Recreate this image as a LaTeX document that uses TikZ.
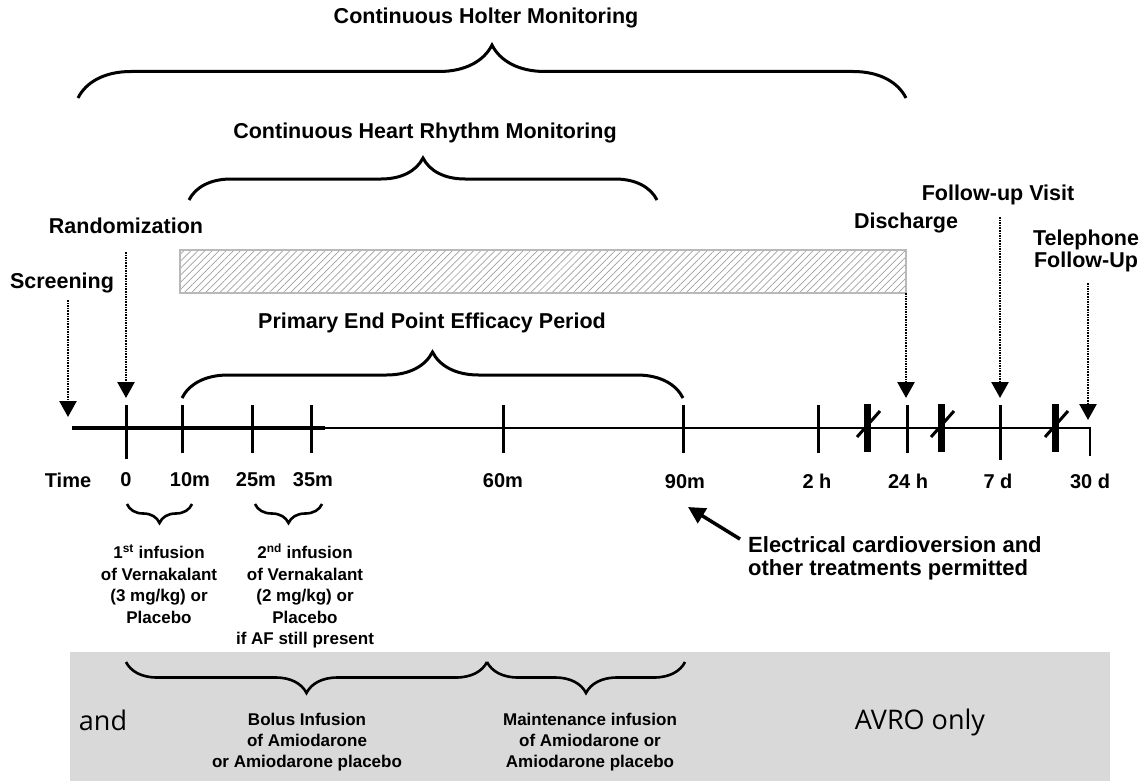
\documentclass[tikz,border=0pt]{standalone}
\usepackage{fontspec}
\setmainfont{Liberation Sans}
\newfontfamily\avrofont{Open Sans}
\usetikzlibrary{arrows.meta,decorations.pathreplacing,patterns.meta}

\tikzset{
  lbl/.style={font=\bfseries\fontsize{21.5}{23}\selectfont, inner sep=0pt, align=center},
  axlbl/.style={font=\bfseries\fontsize{20}{22}\selectfont, inner sep=0pt},
  small/.style={font=\bfseries\fontsize{17}{21.5}\selectfont, inner sep=0pt, align=center},
  plain/.style={font=\avrofont\fontsize{27}{30}\selectfont, inner sep=0pt},
  tick/.style={line width=3pt},
  brk/.style={line width=7pt},
  brc/.style={decorate, decoration={brace, amplitude=#1}, line width=3pt},
  brcd/.style={decorate, decoration={brace, mirror, amplitude=#1}, line width=2.6pt},
  dotarrow/.style={line width=2.6pt, dash pattern=on 1.6pt off 1pt, -{Triangle[width=17pt,length=16pt]}},
  bigarrow/.style={line width=3.5pt, -{Triangle[width=17pt,length=17pt]}}
}

\begin{document}
\begin{tikzpicture}[x=1pt,y=-1pt]
  \useasboundingbox (0,0) rectangle (1145,781);

  % AVRO band
  \fill[black!15] (70,652) rectangle (1110,781);
  \draw[brcd=31] (126,662) -- (487,662);
  \draw[brcd=31] (487,662) -- (685,662);
  \node[plain] (andl) at (103,720) {and};
  \node[small, font=\bfseries\fontsize{17}{21}\selectfont] (bolus) at (307,742) {Bolus Infusion\\of Amiodarone\\or Amiodarone placebo};
  \node[small, font=\bfseries\fontsize{17}{21}\selectfont] (maint) at (590,742) {Maintenance infusion\\of Amiodarone or\\Amiodarone placebo};
  \node[plain] (avro) at (920,722) {AVRO only};

  % monitoring periods
  \node[lbl] (holter) at (486,18) {Continuous Holter Monitoring};
  \draw[brc=53] (78,98) -- (906,98);
  \node[lbl] (heart) at (425,133) {Continuous Heart Rhythm Monitoring};
  \draw[brc=42] (189,200) -- (657,200);
  \draw[pattern={Lines[angle=45,distance=5pt,line width=0.7pt]}, pattern color=gray!75, draw=gray!55, line width=1.2pt]
    (180,250) rectangle (906,293) coordinate (hatch);
  \node[lbl] (primary) at (432,323) {Primary End Point Efficacy Period};
  \draw[brc=46] (182,398) -- (683,398);

  % time axis
  \draw[line width=3.5pt] (72,428) -- (325,428);
  \draw[line width=2.5pt] (325,428) -- (1090,428) -- (1090,456);
  \draw[tick] (126,405) -- (126,459);
  \draw[tick] (182,405) -- (182,453);
  \draw[tick] (252,405) -- (252,453);
  \draw[tick] (311,405) -- (311,453);
  \draw[tick] (503,405) -- (503,453);
  \draw[tick] (683,405) -- (683,453);
  \draw[tick] (818,405) -- (818,453);
  \draw[tick] (907,405) -- (907,453);
  \draw[tick] (1000,405) -- (1000,460);
  \draw[line width=3pt] (857,437) -- (880,411);
  \draw[brk] (867,404) -- (867,452);
  \draw[line width=3pt] (931,437) -- (954,411);
  \draw[brk] (941,404) -- (941,452);
  \draw[line width=3pt] (1045,437) -- (1068,411);
  \draw[brk] (1055,404) -- (1055,452);

  \node[axlbl] (ltime) at (68,480) {Time};
  \node[axlbl] (l0) at (126,480) {0};
  \node[axlbl] (l10) at (190,480) {10m};
  \node[axlbl] (l25) at (256,480) {25m};
  \node[axlbl] (l35) at (313,480) {35m};
  \node[axlbl] (l60) at (503,481) {60m};
  \node[axlbl] (l90) at (685,482) {90m};
  \node[axlbl] (l2h) at (817,481) {2 h};
  \node[axlbl] (l24h) at (908,481) {24 h};
  \node[axlbl] (l7d) at (998,481) {7 d};
  \node[axlbl] (l30d) at (1090,481) {30 d};

  % infusions
  \draw[brcd=19] (127,504) -- (192,504);
  \draw[brcd=19] (255,504) -- (322,504);
  \node[small] (inf1) at (159,584) {1\textsuperscript{st} infusion\\of Vernakalant\\(3 mg/kg) or\\Placebo};
  \node[small] (inf2) at (305,596) {2\textsuperscript{nd} infusion\\of Vernakalant\\(2 mg/kg) or\\Placebo\\if AF still present};

  % events
  \node[lbl] (scr) at (62,283) {Screening};
  \node[lbl] (rand) at (126,226) {Randomization};
  \node[lbl] (disch) at (906,223) {Discharge};
  \node[lbl] (fuv) at (998,195) {Follow-up Visit};
  \node[lbl, font=\bfseries\fontsize{21.5}{22}\selectfont] (tel) at (1086,251) {Telephone\\Follow-Up};
  \coordinate (scrA) at (68,300);
  \coordinate (scrB) at (68,417);
  \coordinate (randA) at (126,252);
  \coordinate (randB) at (126,398);
  \coordinate (dischA) at (906,293);
  \coordinate (dischB) at (906,398);
  \coordinate (fuvA) at (1000,217);
  \coordinate (fuvB) at (1000,398);
  \coordinate (telA) at (1088,283);
  \coordinate (telB) at (1088,420);
  \draw[dotarrow] (scrA) -- (scrB);
  \draw[dotarrow] (randA) -- (randB);
  \draw[dotarrow] (dischA) -- (dischB);
  \draw[dotarrow] (fuvA) -- (fuvB);
  \draw[dotarrow] (telA) -- (telB);

  \node[lbl, anchor=west, align=left, font=\bfseries\fontsize{22}{23}\selectfont] (elec) at (748,558) {Electrical cardioversion and\\other treatments permitted};
  \coordinate (cv) at (688,507);
  \draw[bigarrow] ([xshift=-8pt,yshift=-3pt]elec.north west) -- (cv);
\end{tikzpicture}
\end{document}
